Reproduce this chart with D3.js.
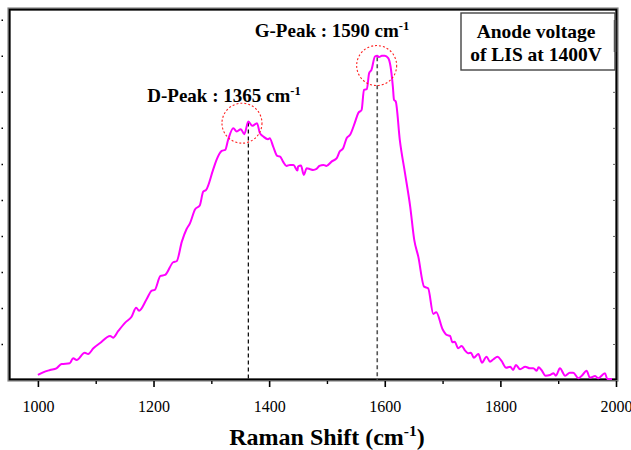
<!DOCTYPE html>
<html>
<head>
<meta charset="utf-8">
<script src="https://cdn.jsdelivr.net/npm/d3@7"></script>
<style>
  html, body { margin: 0; padding: 0; background: #fff; }
  svg { display: block; }
  svg text { font-family: "Liberation Serif", "Times New Roman", "DejaVu Serif", serif; }
</style>
</head>
<body>
<div id="chart"></div>
<script>
// Raman spectrum (Raman shift in cm-1, intensity in arbitrary counts)
const shift = [1000, 1009, 1021, 1032, 1041, 1055, 1061, 1067, 1081, 1087, 1096, 1107, 1125, 1130, 1139,
  1151, 1162, 1170, 1175, 1188, 1197, 1202, 1212, 1220, 1234, 1240, 1249, 1257, 1263, 1272, 1280, 1286,
  1291, 1303, 1309, 1318, 1324, 1329, 1338, 1344, 1351, 1357, 1364, 1371, 1379, 1384, 1390, 1398, 1401,
  1407, 1414, 1419, 1424, 1430, 1436, 1442, 1449, 1450, 1455, 1460, 1465, 1471, 1476, 1482, 1487, 1494,
  1499, 1508, 1517, 1522, 1528, 1534, 1540, 1548, 1554, 1560, 1564, 1569, 1573, 1577, 1583, 1587, 1590,
  1595, 1600, 1606, 1610, 1614, 1616, 1619, 1626, 1635, 1644, 1651, 1658, 1668, 1675, 1684, 1689, 1700,
  1707, 1713, 1717, 1721, 1727, 1733, 1739, 1744, 1749, 1754, 1762, 1768, 1776, 1782, 1788, 1795, 1802,
  1810, 1817, 1822, 1827, 1834, 1843, 1851, 1857, 1863, 1866, 1871, 1878, 1886, 1892, 1896, 1903, 1912,
  1920, 1926, 1935, 1942, 1949, 1955, 1964, 1969, 1981, 1985, 1993];
const intensity = [139, 214, 278, 325, 444, 464, 603, 556, 758, 722, 881, 1019, 1222, 1175, 1361,
  1592, 1758, 2008, 1925, 2242, 2481, 2500, 2889, 2917, 3269, 3297, 3842, 4186, 4350, 4742, 4847, 5231,
  5278, 5833, 6111, 6361, 6389, 6667, 6992, 6897, 6964, 6825, 7175, 7056, 7131, 6853, 6758, 6686, 6714,
  6481, 6222, 6203, 6064, 5944, 5972, 5972, 5814, 5925, 5953, 5694, 5881, 5853, 5833, 5861, 5944, 5972,
  5944, 6064, 6158, 6342, 6436, 6714, 6806, 7131, 7408, 7500, 8056, 8075, 8519, 8611, 8981, 9000, 8964,
  9000, 9000, 8936, 8703, 8147, 7778, 7731, 6667, 5742, 4814, 3889, 3425, 2592, 2547, 1833, 1881, 1408,
  1250, 1222, 1047, 1064, 881, 944, 814, 742, 758, 619, 722, 481, 647, 508, 575, 647, 528,
  342, 369, 278, 417, 297, 369, 325, 325, 258, 353, 278, 119, 139, 186, 119, 325, 119,
  203, 203, 47, 139, 258, 64, 111, 47, 186, 28, 28];

// Peak annotations
const peakNames = ['D-Peak', 'G-Peak'];
const peakLabels = [1365, 1590];
const peakShift = [1364, 1587];
const peakTop = [7150, 8960];
const circleShift = [1353, 1586];
const circleIntensity = [7130, 8730];

// Axis ticks
const xTicks = [1000, 1200, 1400, 1600, 1800, 2000];
const xMinorTicks = [1100, 1300, 1500, 1700, 1900];
const yTicks = [0, 1000, 2000, 3000, 4000, 5000, 6000, 7000, 8000, 9000, 10000];

const legendLines = ['Anode voltage', 'of LIS at 1400V'];

const width = 631;
const height = 450;
const FONT = '"Liberation Serif", "Times New Roman", "DejaVu Serif", serif';

const svg = d3.select('#chart')
  .append('svg')
  .attr('width', width)
  .attr('height', height)
  .attr('font-family', FONT);

// Scales
const x = d3.scaleLinear().domain([950, 2000]).range([9, 616]);
const y = d3.scaleLinear().domain([0, 10300]).range([380, 9]);

const data = shift.map((s, i) => ({ s: s, v: intensity[i] }));

// Frame
svg.append('rect')
  .attr('x', x(950)).attr('y', y(10300))
  .attr('width', 617 - x(950)).attr('height', y(0) - y(10300))
  .attr('fill', 'none')
  .attr('stroke', '#888')
  .attr('stroke-width', 3.2);

svg.append('rect')
  .attr('x', x(950) + 0.6).attr('y', y(10300) + 0.6)
  .attr('width', 617 - x(950) - 1.2).attr('height', y(0) - y(10300) - 1.2)
  .attr('fill', 'none')
  .attr('stroke', '#000')
  .attr('stroke-width', 1.8);

// Bottom axis ticks
const xAxis = svg.append('g')
  .attr('transform', `translate(0,${y(0) + 1})`)
  .call(d3.axisBottom(x).tickValues(xTicks).tickSize(6).tickSizeOuter(0).tickFormat(d3.format('d')));

xAxis.attr('font-family', FONT).attr('font-size', 16);
xAxis.select('.domain').remove();
xAxis.selectAll('line').attr('stroke', '#000').attr('stroke-width', 1.6);
xAxis.selectAll('text')
  .attr('fill', '#000')
  .attr('dy', '0')
  .attr('y', 31);

const xMinor = svg.append('g')
  .attr('transform', `translate(0,${y(0) + 1})`)
  .call(d3.axisBottom(x).tickValues(xMinorTicks).tickSize(3).tickFormat(''));
xMinor.select('.domain').remove();
xMinor.selectAll('line').attr('stroke', '#000').attr('stroke-width', 1.4);

// Left ticks (labels cut off at the edge)
const yAxisLeft = svg.append('g')
  .attr('transform', 'translate(3,0)')
  .call(d3.axisLeft(y).tickValues(yTicks.slice(1)).tickSize(1.5).tickFormat(''));
yAxisLeft.select('.domain').remove();
yAxisLeft.selectAll('line').attr('stroke', '#000').attr('stroke-width', 1.5);

// Right inner ticks
const yAxisRight = svg.append('g')
  .attr('transform', 'translate(616,0)')
  .call(d3.axisRight(y).tickValues(yTicks.slice(1)).tickSize(-3).tickFormat(''));
yAxisRight.select('.domain').remove();
yAxisRight.selectAll('line').attr('stroke', '#666').attr('stroke-width', 1);

// Peak guide lines
const peakColors = ['#000', '#555'];
peakShift.forEach((p, i) => {
  svg.append('line')
    .attr('x1', x(p)).attr('x2', x(p))
    .attr('y1', y(peakTop[i])).attr('y2', y(0))
    .attr('stroke', peakColors[i])
    .attr('stroke-width', i === 0 ? 1.2 : 1.6)
    .attr('stroke-dasharray', '4,3');
});

// Spectrum
const line = d3.line()
  .x(d => x(d.s))
  .y(d => y(d.v))
  .curve(d3.curveMonotoneX);

svg.append('path')
  .datum(data)
  .attr('fill', 'none')
  .attr('stroke', '#ff00ff')
  .attr('stroke-width', 2)
  .attr('stroke-linejoin', 'round')
  .attr('d', line);

// Peak circles
circleShift.forEach((c, i) => {
  svg.append('circle')
    .attr('cx', x(c))
    .attr('cy', y(circleIntensity[i]))
    .attr('r', 20)
    .attr('fill', 'none')
    .attr('stroke', '#ff2020')
    .attr('stroke-width', 1.1)
    .attr('stroke-dasharray', '2,2');
});

// Peak labels
const labelPos = [{ x: 224, y: 102 }, { x: 332, y: 37 }];
peakNames.forEach((name, i) => {
  const t = svg.append('text')
    .attr('x', labelPos[i].x)
    .attr('y', labelPos[i].y)
    .attr('text-anchor', 'middle')
    .attr('font-size', '19px')
    .attr('font-weight', 'bold')
    .attr('fill', '#000');
  t.append('tspan').text(`${name} : ${peakLabels[i]} cm`);
  t.append('tspan').attr('font-size', '12.5px').attr('dy', '-7').text('-1');
});

// Legend box
svg.append('rect')
  .attr('x', 461).attr('y', 13)
  .attr('width', 154).attr('height', 57)
  .attr('fill', '#fff')
  .attr('stroke', '#444')
  .attr('stroke-width', 1.4);

svg.append('line')
  .attr('x1', 615).attr('x2', 615)
  .attr('y1', 20).attr('y2', 52)
  .attr('stroke', '#555')
  .attr('stroke-width', 2.5);

legendLines.forEach((txt, i) => {
  svg.append('text')
    .attr('x', 536)
    .attr('y', 38 + i * 23)
    .attr('text-anchor', 'middle')
    .attr('font-size', '19.5px')
    .attr('font-weight', 'bold')
    .attr('fill', '#000')
    .text(txt);
});

// X axis title
const title = svg.append('text')
  .attr('x', 327)
  .attr('y', 445)
  .attr('text-anchor', 'middle')
  .attr('font-size', '24px')
  .attr('font-weight', 'bold')
  .attr('fill', '#000');
title.append('tspan').text('Raman Shift (cm');
title.append('tspan').attr('font-size', '15.5px').attr('dy', '-9').text('-1');
title.append('tspan').attr('dy', '9').text(')');
</script>
</body>
</html>
